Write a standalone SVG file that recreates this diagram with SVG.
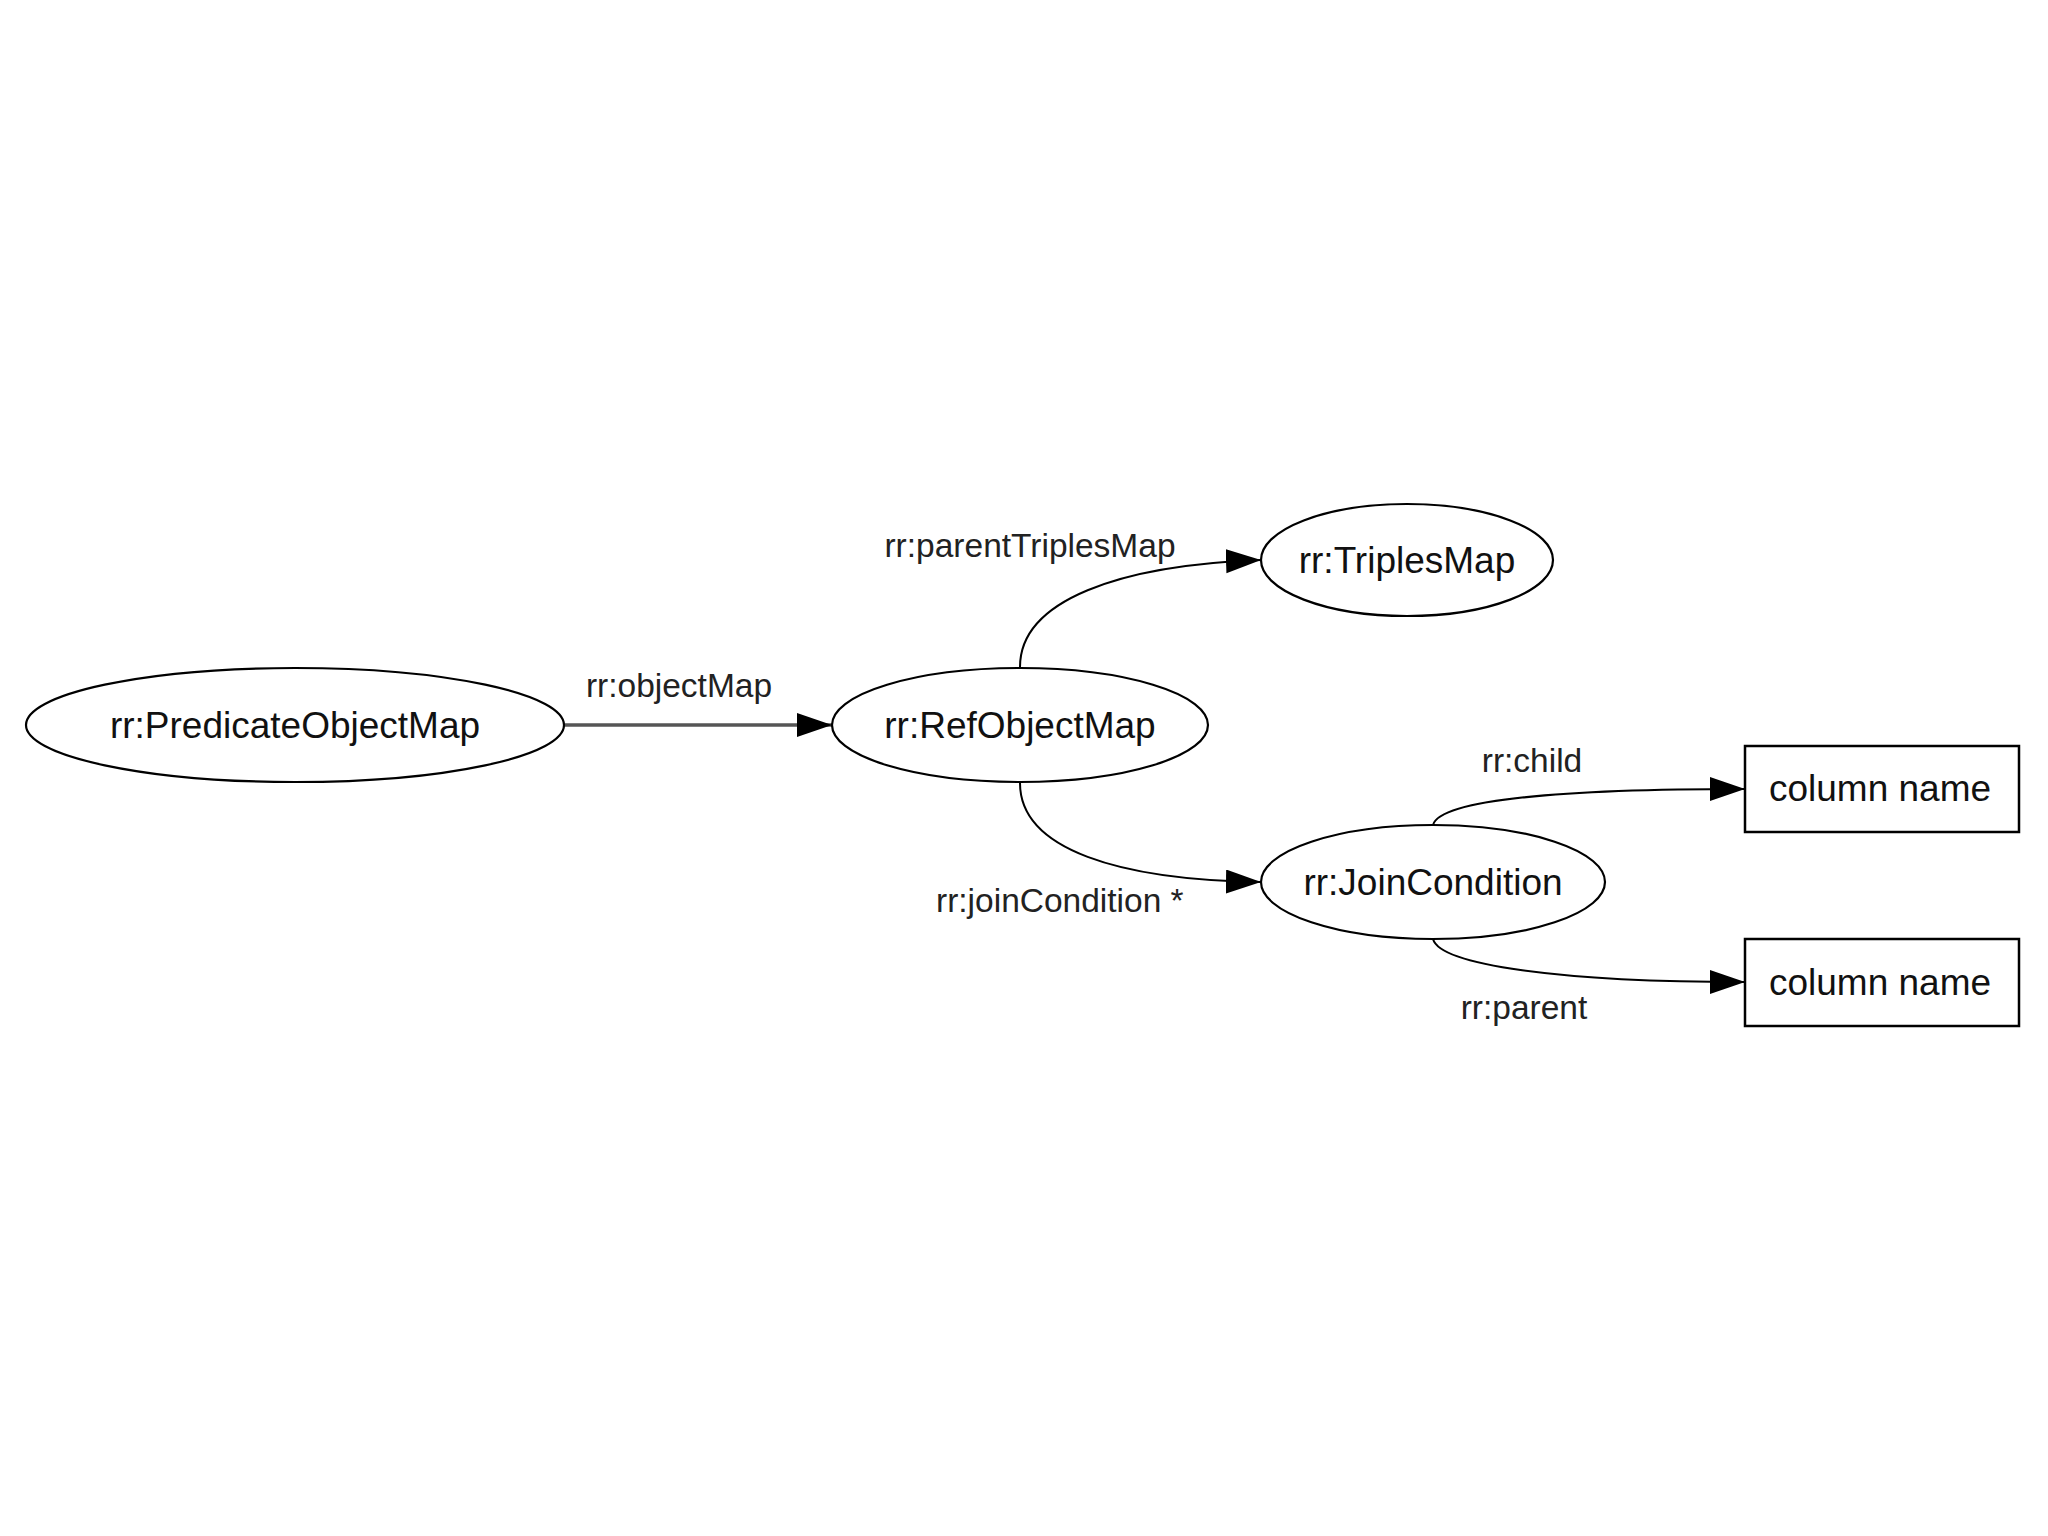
<svg xmlns="http://www.w3.org/2000/svg" width="2048" height="1536" viewBox="0 0 2048 1536">
<style>
.node{fill:#fff;stroke:#000;stroke-width:2.2}
.nt{font-family:"Liberation Sans",Arial,sans-serif;font-size:37px;fill:#111;text-anchor:middle}
.et{font-family:"Liberation Sans",Arial,sans-serif;font-size:33.5px;fill:#222}
.edge{fill:none;stroke:#000;stroke-width:2}
</style>
<defs>
<marker id="arr" markerUnits="userSpaceOnUse" markerWidth="36" markerHeight="26" refX="35" refY="12" orient="auto">
<path d="M0,0 L35,12 L0,24 z" fill="#000"/>
</marker>
</defs>
<rect width="2048" height="1536" fill="#fff"/>
<g id="connectors">
<path class="edge" d="M564,725 L832,725" style="stroke:#555;stroke-width:3.5" marker-end="url(#arr)"/>
<path class="edge" d="M1020,667 C1020,600 1120,565 1261,560" marker-end="url(#arr)"/>
<path class="edge" d="M1020,783 C1020,850 1120,880 1261,882" marker-end="url(#arr)"/>
<path class="edge" d="M1433,825 C1440,800 1560,789 1745,789" marker-end="url(#arr)"/>
<path class="edge" d="M1433,939 C1440,965 1560,982 1745,982" marker-end="url(#arr)"/>
<text class="et" x="1030" y="557" text-anchor="middle">rr:parentTriplesMap</text>
<text class="et" x="679" y="697" text-anchor="middle">rr:objectMap</text>
<text class="et" x="936" y="912">rr:joinCondition *</text>
<text class="et" x="1532" y="772" text-anchor="middle">rr:child</text>
<text class="et" x="1524" y="1019" text-anchor="middle">rr:parent</text>
</g>
<g id="predicateObjectMap">
<ellipse class="node" cx="295" cy="725" rx="269" ry="57"/>
<text class="nt" x="295" y="738">rr:PredicateObjectMap</text>
</g>
<g id="refObjectMap">
<ellipse class="node" cx="1020" cy="725" rx="188" ry="57"/>
<text class="nt" x="1020" y="738">rr:RefObjectMap</text>
</g>
<g id="triplesMap">
<ellipse class="node" cx="1407" cy="560" rx="146" ry="56"/>
<text class="nt" x="1407" y="573">rr:TriplesMap</text>
</g>
<g id="joinCondition">
<ellipse class="node" cx="1433" cy="882" rx="172" ry="57"/>
<text class="nt" x="1433" y="895">rr:JoinCondition</text>
</g>
<g id="columnChild">
<rect class="node" x="1745" y="746" width="274" height="86" style="stroke-width:2.5"/>
<text class="nt" x="1880" y="801">column name</text>
</g>
<g id="columnParent">
<rect class="node" x="1745" y="939" width="274" height="87" style="stroke-width:2.5"/>
<text class="nt" x="1880" y="995">column name</text>
</g>
</svg>
